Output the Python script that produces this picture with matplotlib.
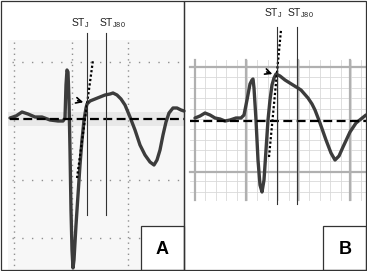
import matplotlib
matplotlib.use("Agg")
import matplotlib.pyplot as plt
from matplotlib.patches import Rectangle
import numpy as np

W, H = 367, 271

# ECG trace A (pixel coords)
traceA_x = [10, 16, 22, 28, 35, 42, 50, 58, 63, 65, 66, 67, 68, 69, 70, 71, 72, 73, 74, 76, 78, 80, 82, 84, 86, 87, 90, 95, 100, 105, 110, 113, 117, 121, 125, 130, 135, 140, 145, 150, 154, 157, 160, 163, 166, 169, 173, 177, 181, 184]
traceA_y = [118, 116, 112, 114, 117, 117, 120, 121, 121, 118, 85, 70, 72, 100, 150, 210, 250, 268, 260, 225, 195, 165, 140, 120, 108, 104, 101, 99, 97, 95, 94, 93, 95, 99, 105, 117, 130, 145, 155, 162, 165, 160, 150, 135, 122, 113, 108, 108, 110, 111]
# ECG trace B
traceB_x = [195, 200, 205, 210, 215, 220, 225, 230, 236, 241, 244, 247, 250, 252, 253, 254, 256, 258, 260, 262, 264, 266, 268, 270, 272, 274, 276, 280, 285, 293, 301, 308, 312, 315, 320, 326, 331, 335, 339, 343, 350, 356, 361, 366]
traceB_y = [118, 116, 113, 115, 118, 119, 121, 120, 118, 118, 115, 100, 84, 80, 79, 88, 120, 160, 185, 192, 180, 150, 120, 100, 85, 78, 74, 76, 80, 85, 90, 98, 104, 110, 123, 140, 153, 160, 156, 147, 132, 123, 119, 115]

fig = plt.figure(figsize=(W / 100, H / 100), dpi=100)
ax = fig.add_axes([0, 0, 1, 1])
ax.set_xlim(0, W)
ax.set_ylim(H, 0)
ax.axis("off")

trace_col = "#3c3c3c"

# ---- Panel A background and dotted grid ----
ax.add_patch(Rectangle((8, 40), 176, 230, color="#f7f7f7", lw=0, zorder=0))
ax.add_patch(Rectangle((8, 112), 176, 14, color="#e8e8e8", lw=0, zorder=0))
for gx in [14, 72, 128]:
    ax.plot([gx, gx], [42, 270], ls=(0, (1, 3)), color="#909090", lw=1.0, zorder=1)
for gy in [62, 180, 238]:
    ax.plot([12, 184], [gy, gy], ls=(0, (1, 6)), color="#909090", lw=1.0, zorder=1)

# ---- Panel B grid ----
gx0, gx1, gy0, gy1 = 190, 366, 60, 200
for xv in np.arange(195, 367, 10.4):
    ax.plot([xv, xv], [gy0, gy1], color="#d9d9d9", lw=0.6, zorder=1)
for yv in np.arange(67 - 10.4, gy1 + 1, 10.4):
    if yv >= gy0:
        ax.plot([gx0, gx1], [yv, yv], color="#d9d9d9", lw=0.6, zorder=1)
for xv in [195, 246, 298, 350]:
    ax.plot([xv, xv], [gy0, gy1], color="#b0b0b0", lw=1.6, zorder=1)
for yv in [67, 172]:
    ax.plot([gx0, gx1], [yv, yv], color="#b0b0b0", lw=1.6, zorder=1)

# ---- traces ----
ax.plot(traceA_x, traceA_y, color=trace_col, lw=2.4, solid_capstyle="round", solid_joinstyle="round", zorder=3)
ax.plot(traceB_x, traceB_y, color=trace_col, lw=2.4, solid_capstyle="round", solid_joinstyle="round", zorder=3)

# baselines
ax.plot([10, 184], [119, 119], color="black", lw=1.6, ls=(0, (4, 2)), zorder=4)
ax.plot([190, 366], [121, 121], color="black", lw=1.6, ls=(0, (4, 2)), zorder=4)

# tangent dotted lines
ax.plot([77, 93], [178, 60], color="black", lw=1.6, ls=(0, (1, 1)), zorder=4)
ax.plot([269, 281], [157, 30], color="black", lw=1.6, ls=(0, (1, 1)), zorder=4)

# ST vertical lines
for xv in [87, 106]:
    ax.plot([xv, xv], [33, 215], color="#333333", lw=0.8, zorder=4)
for xv in [277, 297]:
    ax.plot([xv, xv], [27, 204], color="#333333", lw=0.8, zorder=4)

# arrows
ax.annotate("", xy=(86, 103), xytext=(75, 100),
            arrowprops=dict(arrowstyle="->", color="black", lw=1.2), zorder=5)
ax.annotate("", xy=(275, 75), xytext=(264, 71),
            arrowprops=dict(arrowstyle="->", color="black", lw=1.2), zorder=5)

# labels
fs = 7.5
ax.text(80, 23, r"ST$_\mathregular{J}$", fontsize=fs, ha="center", va="center", color="#222222", family="Liberation Sans")
ax.text(112, 23, r"ST$_\mathregular{J80}$", fontsize=fs, ha="center", va="center", color="#222222", family="Liberation Sans")
ax.text(273, 13, r"ST$_\mathregular{J}$", fontsize=fs, ha="center", va="center", color="#222222", family="Liberation Sans")
ax.text(300, 13, r"ST$_\mathregular{J80}$", fontsize=fs, ha="center", va="center", color="#222222", family="Liberation Sans")

# label boxes
ax.add_patch(Rectangle((141, 226), 43, 44, facecolor="white", edgecolor="#333333", lw=0.9, zorder=6))
ax.text(162, 249, "A", fontsize=13, fontweight="bold", ha="center", va="center", family="Liberation Sans", zorder=7)
ax.add_patch(Rectangle((323, 226), 43, 44, facecolor="white", edgecolor="#333333", lw=0.9, zorder=6))
ax.text(345, 249, "B", fontsize=13, fontweight="bold", ha="center", va="center", family="Liberation Sans", zorder=7)

# panel borders
ax.add_patch(Rectangle((1, 1), 183, 269, fill=False, edgecolor="#333333", lw=0.9, zorder=8))
ax.add_patch(Rectangle((184, 1), 182, 269, fill=False, edgecolor="#333333", lw=0.9, zorder=8))

fig.savefig("out.png", dpi=100)
